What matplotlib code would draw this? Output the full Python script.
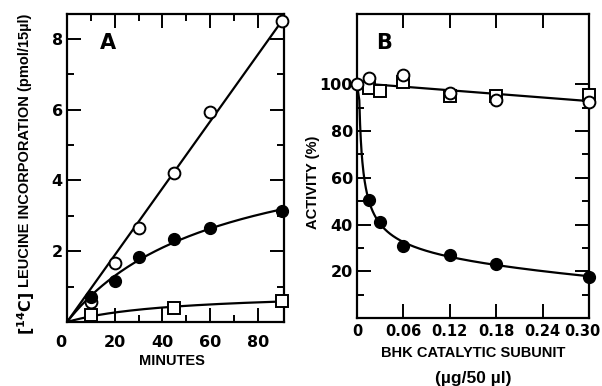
import numpy as np
import matplotlib.pyplot as plt
import matplotlib.transforms as mtransforms

plt.rcParams['font.family'] = ['DejaVu Sans']
plt.rcParams['font.weight'] = 'bold'
plt.rcParams['mathtext.default'] = 'regular'

# panel A: leucine incorporation vs time
t_open = np.array([10, 20, 30, 45, 60, 90])
y_open = np.array([0.56, 1.66, 2.65, 4.2, 5.92, 8.5])
t_fill = np.array([10, 20, 30, 45, 60, 90])
y_fill = np.array([0.72, 1.15, 1.83, 2.34, 2.65, 3.13])
t_sq = np.array([10, 45, 90])
y_sq = np.array([0.2, 0.39, 0.6])

# panel B: activity vs BHK catalytic subunit
c_fill = np.array([0.015, 0.03, 0.06, 0.12, 0.18, 0.30])
a_fill = np.array([50.5, 41.0, 31.0, 26.8, 23.3, 17.5])
c_open = np.array([0.0, 0.015, 0.06, 0.12, 0.18, 0.30])
a_open = np.array([100.0, 102.5, 104.0, 96.3, 93.3, 92.4])
c_sq = np.array([0.015, 0.03, 0.06, 0.12, 0.18, 0.30])
a_sq = np.array([98.4, 97.2, 101.0, 94.8, 95.0, 95.5])

lab_font = dict(family=['Liberation Sans', 'DejaVu Sans'], fontweight='bold', fontsize=10.5)


def hyper_fit(x, y):
    # y = a*x/(b+x), best b by scan, a by least squares
    best = None
    for b in np.linspace(5, 300, 600):
        g = x / (b + x)
        a = np.sum(g * y) / np.sum(g * g)
        err = np.sum((a * g - y) ** 2)
        if best is None or err < best[0]:
            best = (err, a, b)
    return best[1], best[2]


fig = plt.figure(figsize=(6.02, 3.86), dpi=100)
axA = fig.add_axes([0.1113, 0.1658, 0.3605, 0.798])
axB = fig.add_axes([0.593, 0.176, 0.3854, 0.7876])

lw = 1.6
ms = 8.5

# --- A ---
xs = np.linspace(0, 90, 200)
k = np.sum(t_open * y_open) / np.sum(t_open ** 2)
axA.plot(xs, k * xs, color='black', lw=lw)
a, b = hyper_fit(t_fill, y_fill)
axA.plot(xs, a * xs / (b + xs), color='black', lw=lw)
a, b = hyper_fit(t_sq, y_sq)
axA.plot(xs, a * xs / (b + xs), color='black', lw=lw)
axA.plot(t_open, y_open, 'o', ms=ms, mfc='white', mec='black', mew=1.4, clip_on=False, zorder=5)
axA.plot(t_fill, y_fill, 'o', ms=ms, mfc='black', mec='black', clip_on=False, zorder=5)
axA.plot(t_sq, y_sq, 's', ms=ms - 0.5, mfc='white', mec='black', mew=1.4, clip_on=False, zorder=5)

axA.set_xlim(0, 91)
axA.set_ylim(0, 8.7)
axA.set_xticks([0, 20, 40, 60, 80])
axA.set_xticks([10, 30, 50, 70], minor=True)
axA.set_yticks([0, 2, 4, 6, 8])
axA.set_yticklabels(['', '2', '4', '6', '8'])
axA.set_yticks([1, 3, 5, 7], minor=True)
fig.text(172 / 602, 1 - 361 / 386, 'MINUTES', ha='center', va='center', **lab_font)
fig.text(26 / 602, 1 - 313 / 386, r'$\left[{}^{14}C\right]$', rotation=90,
         ha='center', va='center', fontsize=11.5, fontweight='bold')
fig.text(25 / 602, 1 - 150 / 386, 'LEUCINE INCORPORATION (pmol/15µl)',
         rotation=90, ha='center', va='center', **lab_font)
axA.text(0.19, 0.905, 'A', transform=axA.transAxes, fontsize=15, fontweight='bold',
         ha='center', va='center')

# --- B ---
xs = np.linspace(0, 0.30, 200)
p = np.polyfit(np.concatenate([c_open, c_sq]), np.concatenate([a_open, a_sq]), 1)
axB.plot(xs, np.polyval(p, xs), color='black', lw=lw)
M = np.column_stack([np.ones_like(c_fill), c_fill, 1 / np.sqrt(c_fill)])
coef = np.linalg.lstsq(M, a_fill, rcond=None)[0]
xc = np.linspace(0.0025, 0.30, 600)
yc = coef[0] + coef[1] * xc + coef[2] / np.sqrt(xc)
keep = yc <= 100
axB.plot(np.concatenate([[0.0], xc[keep]]), np.concatenate([[100.0], yc[keep]]),
         color='black', lw=lw)
axB.plot(c_fill, a_fill, 'o', ms=ms, mfc='black', mec='black', clip_on=False, zorder=5)
axB.plot(c_sq, a_sq, 's', ms=ms - 0.5, mfc='white', mec='black', mew=1.4, clip_on=False, zorder=5)
axB.plot(c_open, a_open, 'o', ms=ms, mfc='white', mec='black', mew=1.4, clip_on=False, zorder=6)

axB.set_xlim(0, 0.30)
axB.set_ylim(0, 130)
axB.set_xticks([0, 0.06, 0.12, 0.18, 0.24, 0.30])
axB.set_xticklabels(['0', '0.06', '0.12', '0.18', '0.24', '0.30'])
axB.set_yticks([0, 20, 40, 60, 80, 100])
axB.set_yticklabels(['', '20', '40', '60', '80', '100'])
axB.set_yticks([10, 30, 50, 70, 90], minor=True)
fig.text(473 / 602, 1 - 353 / 386, 'BHK CATALYTIC SUBUNIT', ha='center', va='center', **lab_font)
fig.text(473 / 602, 1 - 379 / 386, '(µg/50 µl)', ha='center', va='center',
         family=['Liberation Sans', 'DejaVu Sans'], fontweight='bold', fontsize=12.5)
fig.text(313 / 602, 1 - 182 / 386, 'ACTIVITY (%)', rotation=90, ha='center', va='center', **lab_font)
axB.text(0.115, 0.905, 'B', transform=axB.transAxes, fontsize=15, fontweight='bold',
         ha='center', va='center')

for ax in (axA, axB):
    for s in ax.spines.values():
        s.set_linewidth(1.6)
    ax.tick_params(which='both', direction='in', top=True, right=True, width=1.4,
                   labelsize=11.5)
    ax.tick_params(which='major', length=10)
    ax.tick_params(which='minor', length=5)
    ax.tick_params(axis='y', pad=3)
axA.tick_params(axis='x', pad=9)
axB.tick_params(axis='x', pad=4, labelsize=10.5)

# nudge the corner/edge tick labels like the original print
shiftA = mtransforms.ScaledTranslation(-6 / 100, 0, fig.dpi_scale_trans)
lblA = axA.get_xticklabels()[0]
lblA.set_transform(lblA.get_transform() + shiftA)
shiftB = mtransforms.ScaledTranslation(-7 / 100, 0, fig.dpi_scale_trans)
lblB = axB.get_xticklabels()[-1]
lblB.set_transform(lblB.get_transform() + shiftB)

fig.savefig('out.png', dpi=100)
